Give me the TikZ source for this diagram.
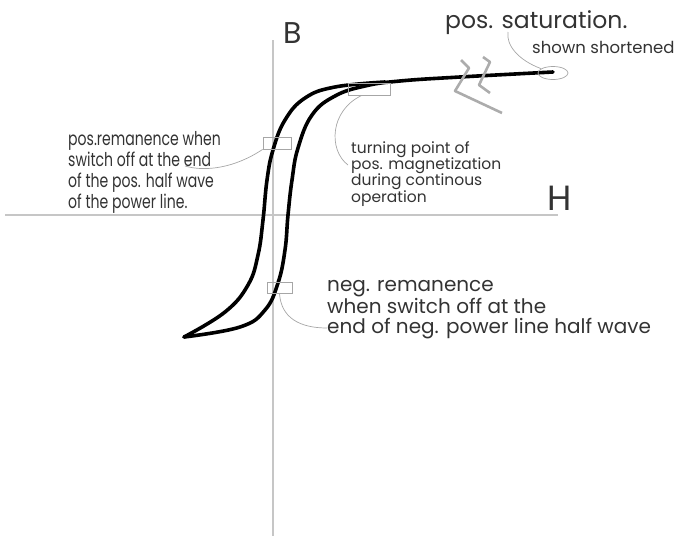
\documentclass[tikz,border=0pt]{standalone}
\usepackage{fontspec}
\setmainfont{Poppins}
\newfontfamily\narrowfont[FakeStretch=0.74]{Poppins}
\usetikzlibrary{shapes.geometric}

\begin{document}
\begin{tikzpicture}[x=1pt,y=-1pt,
    axis/.style={gray!45, line width=1.5pt},
    loopline/.style={line width=3.6pt, line cap=round, line join=round},
    breakmark/.style={gray!65, line width=2.6pt, line join=round},
    hint/.style={draw=gray!70, line width=0.7pt, inner sep=0pt},
    leader/.style={gray!70, line width=0.7pt},
    label/.style={text=black!80, inner sep=0pt, anchor=base west, align=left}]
  \useasboundingbox (0,0) rectangle (675,536);

  % axes
  \draw[axis] (273,40) -- (273,536);
  \draw[axis] (5,215) -- (558,215);
  \node[label, font=\fontsize{30}{30}\selectfont] (B) at (283,43) {B};
  \node[label, font=\fontsize{35}{35}\selectfont] (H) at (547,210) {H};

  % hysteresis loop
  \draw[loopline] plot[smooth, tension=0.7] coordinates {(184,337) (225,312) (248,285)
    (258,255) (263,220) (267,180) (273,150) (285,120) (305,98) (335,87) (385,82)};
  \draw[loopline] plot[smooth, tension=0.7] coordinates {(184,337) (240,327) (265,310)
    (278,283) (285,250) (288,215) (292,180) (298,148) (312,115) (335,96) (365,86)
    (400,81) (460,77) (553,72)};

  % shortening mark
  \draw[breakmark] (461,60) -- (469,68) -- (455,91) -- (502,113);
  \draw[breakmark] (483,57) -- (490,62) -- (479,85) -- (490,93);

  % marked points
  \node[hint, minimum width=28pt, minimum height=12pt] (posrem) at (277,143) {};
  \node[hint, minimum width=42pt, minimum height=12pt] (turnpt) at (369,89) {};
  \node[hint, minimum width=25pt, minimum height=11pt] (negrem) at (279.5,287.5) {};
  \node[hint, ellipse, minimum width=30pt, minimum height=13pt] (satoval) at (553,73) {};

  % labels (base = last line)
  \node[label, font=\fontsize{23.5}{23.5}\selectfont] (sattxt) at (445,28) {pos. saturation.};
  \node[label, font=\fontsize{16.5}{16.5}\selectfont] (shorttxt) at (532,53) {shown shortened};
  \node[label, font=\narrowfont\fontsize{19}{21}\selectfont] (posremtxt) at (68,208)
    {pos.remanence when\\switch off at the end\\of the pos. half wave\\of the power line.};
  \node[label, font=\fontsize{15.5}{16.3}\selectfont] (turntxt) at (351,202)
    {turning point of\\pos. magnetization\\during continous\\operation};
  \node[label, font=\fontsize{20}{20}\selectfont] (negtxt) at (327,333)
    {neg. remanence\\when switch off at the\\end of neg. power line half wave};

  % leaders
  \coordinate (posremend) at (185,166);
  \coordinate (turnend) at (348,165);
  \coordinate (negend) at (327,328);
  \coordinate (satend) at (508,32);
  \draw[leader] (posrem.south west) .. controls (235,168) and (205,172) .. (posremend);
  \draw[leader] ([xshift=-7pt]turnpt.south) .. controls (330,110) and (328,150) .. (turnend);
  \draw[leader] (negrem.south) .. controls (281,318) and (300,328) .. (negend);
  \draw[leader] (satoval.160) .. controls (518,60) and (506,45) .. (satend);
\end{tikzpicture}
\end{document}
